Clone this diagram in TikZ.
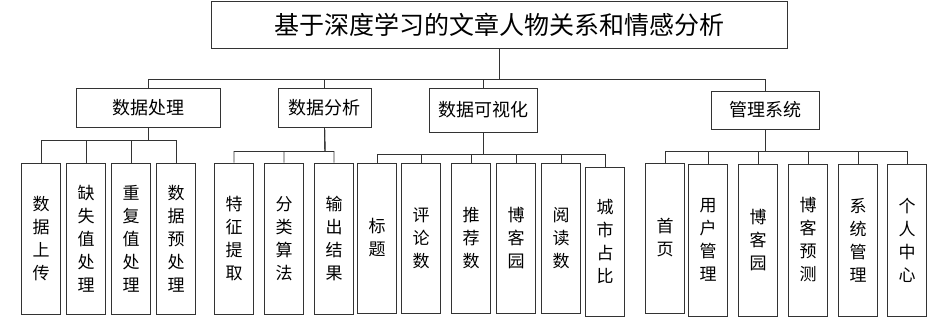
\documentclass[tikz,border=0pt]{standalone}
\usepackage{fontspec}
\setmainfont{Noto Sans CJK SC}
\usepackage{tikz}
\tikzstyle{box}=[draw=black!80, line width=0.9pt, inner sep=0pt, font=\fontsize{18}{22}\selectfont]
\tikzstyle{leaf}=[box, minimum width=38.5pt, align=center, font=\fontsize{17}{23}\selectfont]
\tikzstyle{wire}=[draw=black!80, line width=0.9pt]

\begin{document}
\begin{tikzpicture}[x=1pt, y=-1pt]
    \useasboundingbox (0,0) rectangle (950,323);

    %title
    \node[box, minimum width=576pt, minimum height=47pt, font=\fontsize{25}{30}\selectfont] (title) at (499,24.5) {基于深度学习的文章人物关系和情感分析};

    %modules
    \node[box, minimum width=144pt, minimum height=39pt] (p1) at (148,107.5) {数据处理};
    \node[box, minimum width=93pt, minimum height=39pt] (p2) at (324.5,107.5) {数据分析};
    \node[box, minimum width=108pt, minimum height=44pt] (p3) at (483,110) {数据可视化};
    \node[box, minimum width=108pt, minimum height=38pt] (p4) at (765,110) {管理系统};

    %bus coordinates
    \coordinate (b0) at (499,79);
    \coordinate (b1) at (148,140);
    \coordinate (b2) at (325,151.5);
    \coordinate (b3) at (483,154);
    \coordinate (b4) at (765,151);

    %leaves
    \foreach \x/\y/\h/\n/\t in {41/238.5/151/a1/{数\\据\\上\\传}, 86/238.5/151/a2/{缺\\失\\值\\处\\理}, 131/238.5/151/a3/{重\\复\\值\\处\\理}, 176/238.5/151/a4/{数\\据\\预\\处\\理},
        234/238.5/151/c1/{特\\征\\提\\取}, 284/238.5/151/c2/{分\\类\\算\\法}, 334/238.5/151/c3/{输\\出\\结\\果},
        377/238/150/d1/{标\\题}, 421/238/150/d2/{评\\论\\数}, 471/238/150/d3/{推\\荐\\数}, 516/238/150/d4/{博\\客\\园}, 561/238/150/d5/{阅\\读\\数}, 605/241.5/149/d6/{城\\市\\占\\比},
        665/238/150/e1/{首\\页}, 708/240/152/e2/{用\\户\\管\\理}, 758/240/152/e3/{博\\客\\园}, 808/240/152/e4/{博\\客\\预\\测}, 858/240/152/e5/{系\\统\\管\\理}, 907/240/152/e6/{个\\人\\中\\心}} {
    \node[leaf, minimum height=\h pt] (\n) at (\x,\y) {\t};
    }

    %connectors
    \foreach \c in {p1,p2,p3,p4}{\draw[wire] (title.south) -- (b0) -| (\c.north);}
    \foreach \c in {a1,a2,a3,a4}{\draw[wire] (p1.south) -- (b1) -| (\c.north);}
    \foreach \c in {c1,c2,c3}{\draw[wire] (p2.south) -- (b2) -| (\c.north);}
    \foreach \c in {d1,d2,d3,d4,d5,d6}{\draw[wire] (p3.south) -- (b3) -| (\c.north);}
    \foreach \c in {e1,e2,e3,e4,e5,e6}{\draw[wire] (p4.south) -- (b4) -| (\c.north);}

\end{tikzpicture}
\end{document}
